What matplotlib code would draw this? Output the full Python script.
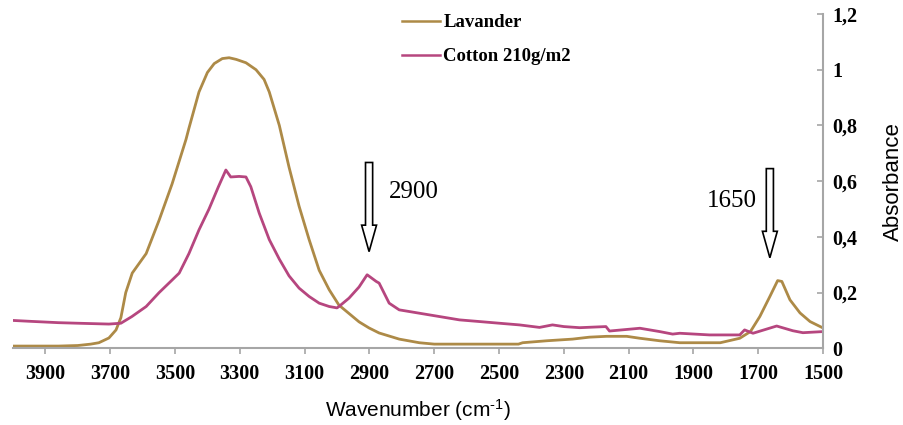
import matplotlib
matplotlib.use("Agg")
import matplotlib.pyplot as plt
from matplotlib.patches import FancyArrow
from matplotlib.ticker import FuncFormatter

# ---- data ----
lav_wn = [4000, 3860, 3800, 3760, 3735, 3704, 3682, 3667, 3652, 3632, 3589, 3549, 3509,
          3466, 3457, 3426, 3400, 3379, 3354, 3333, 3311, 3281, 3250, 3225, 3209, 3178,
          3148, 3117, 3086, 3055, 3024, 2994, 2963, 2932, 2901, 2870, 2808, 2746, 2700,
          2560, 2440, 2427, 2353, 2273, 2221, 2168, 2106, 2065, 2004, 1942, 1817, 1757,
          1724, 1695, 1664, 1640, 1627, 1602, 1571, 1540, 1500]
lav_abs = [0.008, 0.008, 0.010, 0.015, 0.020, 0.037, 0.066, 0.110, 0.200, 0.270, 0.340,
           0.460, 0.590, 0.750, 0.790, 0.920, 0.990, 1.022, 1.040, 1.043, 1.037, 1.025,
           1.000, 0.965, 0.920, 0.800, 0.650, 0.510, 0.390, 0.280, 0.210, 0.155, 0.125,
           0.095, 0.073, 0.055, 0.033, 0.020, 0.015, 0.015, 0.015, 0.020, 0.027, 0.033,
           0.040, 0.043, 0.043, 0.036, 0.027, 0.020, 0.020, 0.036, 0.060, 0.114, 0.186,
           0.243, 0.240, 0.174, 0.127, 0.096, 0.073]

cot_wn = [4000, 3950, 3860, 3800, 3704, 3667, 3633, 3589, 3549, 3509, 3487, 3457, 3426,
          3395, 3366, 3343, 3328, 3302, 3281, 3266, 3240, 3209, 3178, 3148, 3117, 3086,
          3055, 3024, 3000, 2994, 2963, 2932, 2907, 2879, 2870, 2839, 2808, 2746, 2684,
          2622, 2560, 2499, 2437, 2375, 2335, 2300, 2251, 2170, 2159, 2065, 2004, 1964,
          1942, 1850, 1757, 1742, 1716, 1643, 1593, 1562, 1500]
cot_abs = [0.100, 0.097, 0.092, 0.090, 0.087, 0.090, 0.114, 0.150, 0.200, 0.245, 0.270,
           0.340, 0.425, 0.500, 0.580, 0.640, 0.615, 0.617, 0.615, 0.580, 0.485, 0.390,
           0.320, 0.260, 0.216, 0.186, 0.162, 0.150, 0.145, 0.150, 0.180, 0.220, 0.264,
           0.240, 0.234, 0.162, 0.138, 0.126, 0.114, 0.102, 0.096, 0.090, 0.084, 0.075,
           0.084, 0.078, 0.074, 0.078, 0.062, 0.072, 0.060, 0.051, 0.054, 0.048, 0.048,
           0.066, 0.054, 0.080, 0.063, 0.056, 0.060]

x_ticks = [3900, 3700, 3500, 3300, 3100, 2900, 2700, 2500, 2300, 2100, 1900, 1700, 1500]
y_ticks = [0, 0.2, 0.4, 0.6, 0.8, 1.0, 1.2]
series_names = ["Lavander", "Cotton 210g/m2"]
peak_labels = ["2900", "1650"]
peak_pos = [2901, 1664]

# ---- style ----
plt.rcParams["mathtext.fontset"] = "custom"
plt.rcParams["mathtext.rm"] = "Liberation Sans"
plt.rcParams["mathtext.it"] = "Liberation Sans"
plt.rcParams["mathtext.bf"] = "Liberation Sans"

c_lav = "#AD8A47"
c_cot = "#B6467F"
grey = "#A6A6A6"
serif = "Liberation Serif"
sans = "Liberation Sans"

fig = plt.figure(figsize=(9.04, 4.25), dpi=100)
ax = fig.add_axes([13 / 904, 1 - 348.3 / 425, (823 - 13) / 904, (348.3 - 14) / 425])

ax.plot(lav_wn, lav_abs, color=c_lav, lw=2.0, label=series_names[0])
ax.plot(cot_wn, cot_abs, color=c_cot, lw=2.0, label=series_names[1])

ax.set_xlim(4000, 1500)
ax.set_ylim(0, 1.2)

for s in ["top", "left"]:
    ax.spines[s].set_visible(False)
for s in ["bottom", "right"]:
    ax.spines[s].set_color(grey)
    ax.spines[s].set_linewidth(1.5)

ax.set_xticks(x_ticks)
ax.set_yticks(y_ticks)
ax.yaxis.tick_right()
ax.yaxis.set_label_position("right")
ax.tick_params(axis="x", direction="out", length=4, width=1.2, color=grey, pad=7)
ax.tick_params(axis="y", direction="in", length=4, width=1.2, color=grey, pad=7)

def yfmt(v, pos):
    if abs(v) < 1e-9:
        return "0"
    if abs(v - round(v)) < 1e-9:
        return "%d" % round(v)
    return ("%.1f" % v).replace(".", ",")

ax.yaxis.set_major_formatter(FuncFormatter(yfmt))
for lab in ax.get_xticklabels() + ax.get_yticklabels():
    lab.set_fontfamily(serif)
    lab.set_fontweight("bold")
    lab.set_fontsize(14.5)

ax.set_xlabel(r"Wavenumber (cm$^{\text{-}1}$)", fontfamily=sans, fontsize=15, labelpad=10)
ax.set_ylabel("Absorbance", fontfamily=sans, fontsize=16, labelpad=18)

leg = ax.legend(loc="upper left", bbox_to_anchor=(402 / 904, 1 - 14 / 425),
                bbox_transform=fig.transFigure, frameon=False, borderpad=0,
                borderaxespad=0, handlelength=2.0, handletextpad=0.2,
                labelspacing=0.9, prop={"family": serif, "weight": "bold", "size": 13.5})
for h in leg.get_lines():
    h.set_linewidth(1.8)

# hollow arrows
arrow_top = [0.667, 0.645]
arrow_tip = [0.347, 0.325]
for xp, yt, yb in zip(peak_pos, arrow_top, arrow_tip):
    ax.add_patch(FancyArrow(xp, yt, 0, yb - yt, width=22, head_width=46, head_length=0.095,
                            length_includes_head=True, facecolor="white",
                            edgecolor="black", lw=1.2, zorder=5))

ax.text(2840, 0.56, peak_labels[0], fontfamily=serif, fontsize=18, ha="left", va="center")
ax.text(1705, 0.53, peak_labels[1], fontfamily=serif, fontsize=18, ha="right", va="center")

fig.savefig("out.png", dpi=100)
